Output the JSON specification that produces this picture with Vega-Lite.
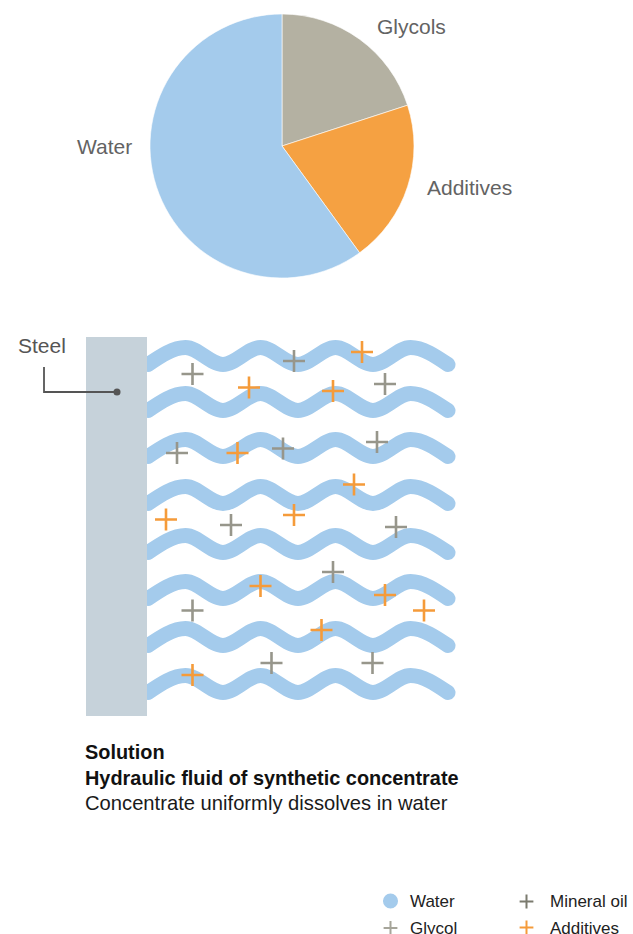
{
  "$schema": "https://vega.github.io/schema/vega-lite/v6.json",
  "width": 633,
  "height": 934,
  "autosize": "none",
  "padding": 0,
  "background": "white",
  "config": {"view": {"stroke": null}, "font": "Liberation Sans"},
  "datasets": {
    "pie": [
      {"part": "Glycols", "t0": 0, "t1": 20, "x": 282, "y": 146},
      {"part": "Additives", "t0": 20, "t1": 40, "x": 282, "y": 146},
      {"part": "Water", "t0": 40, "t1": 100, "x": 282, "y": 146}
    ],
    "waves": [
      {"w": 1, "x": 148, "y": 364.5}, {"w": 1, "x": 185.5, "y": 347.5}, {"w": 1, "x": 223, "y": 364.5}, {"w": 1, "x": 260.5, "y": 347.5}, {"w": 1, "x": 298, "y": 364.5}, {"w": 1, "x": 335.5, "y": 347.5}, {"w": 1, "x": 373, "y": 364.5}, {"w": 1, "x": 410.5, "y": 347.5}, {"w": 1, "x": 448, "y": 364.5},
      {"w": 2, "x": 148, "y": 410.5}, {"w": 2, "x": 185.5, "y": 393.5}, {"w": 2, "x": 223, "y": 410.5}, {"w": 2, "x": 260.5, "y": 393.5}, {"w": 2, "x": 298, "y": 410.5}, {"w": 2, "x": 335.5, "y": 393.5}, {"w": 2, "x": 373, "y": 410.5}, {"w": 2, "x": 410.5, "y": 393.5}, {"w": 2, "x": 448, "y": 410.5},
      {"w": 3, "x": 148, "y": 456.5}, {"w": 3, "x": 185.5, "y": 439.5}, {"w": 3, "x": 223, "y": 456.5}, {"w": 3, "x": 260.5, "y": 439.5}, {"w": 3, "x": 298, "y": 456.5}, {"w": 3, "x": 335.5, "y": 439.5}, {"w": 3, "x": 373, "y": 456.5}, {"w": 3, "x": 410.5, "y": 439.5}, {"w": 3, "x": 448, "y": 456.5},
      {"w": 4, "x": 148, "y": 503.5}, {"w": 4, "x": 185.5, "y": 486.5}, {"w": 4, "x": 223, "y": 503.5}, {"w": 4, "x": 260.5, "y": 486.5}, {"w": 4, "x": 298, "y": 503.5}, {"w": 4, "x": 335.5, "y": 486.5}, {"w": 4, "x": 373, "y": 503.5}, {"w": 4, "x": 410.5, "y": 486.5}, {"w": 4, "x": 448, "y": 503.5},
      {"w": 5, "x": 148, "y": 552.5}, {"w": 5, "x": 185.5, "y": 535.5}, {"w": 5, "x": 223, "y": 552.5}, {"w": 5, "x": 260.5, "y": 535.5}, {"w": 5, "x": 298, "y": 552.5}, {"w": 5, "x": 335.5, "y": 535.5}, {"w": 5, "x": 373, "y": 552.5}, {"w": 5, "x": 410.5, "y": 535.5}, {"w": 5, "x": 448, "y": 552.5},
      {"w": 6, "x": 148, "y": 598.5}, {"w": 6, "x": 185.5, "y": 581.5}, {"w": 6, "x": 223, "y": 598.5}, {"w": 6, "x": 260.5, "y": 581.5}, {"w": 6, "x": 298, "y": 598.5}, {"w": 6, "x": 335.5, "y": 581.5}, {"w": 6, "x": 373, "y": 598.5}, {"w": 6, "x": 410.5, "y": 581.5}, {"w": 6, "x": 448, "y": 598.5},
      {"w": 7, "x": 148, "y": 645.5}, {"w": 7, "x": 185.5, "y": 628.5}, {"w": 7, "x": 223, "y": 645.5}, {"w": 7, "x": 260.5, "y": 628.5}, {"w": 7, "x": 298, "y": 645.5}, {"w": 7, "x": 335.5, "y": 628.5}, {"w": 7, "x": 373, "y": 645.5}, {"w": 7, "x": 410.5, "y": 628.5}, {"w": 7, "x": 448, "y": 645.5},
      {"w": 8, "x": 148, "y": 692.5}, {"w": 8, "x": 185.5, "y": 675.5}, {"w": 8, "x": 223, "y": 692.5}, {"w": 8, "x": 260.5, "y": 675.5}, {"w": 8, "x": 298, "y": 692.5}, {"w": 8, "x": 335.5, "y": 675.5}, {"w": 8, "x": 373, "y": 692.5}, {"w": 8, "x": 410.5, "y": 675.5}, {"w": 8, "x": 448, "y": 692.5}
    ],
    "steel": [{"x": 86, "x2": 147, "y": 337, "y2": 716}],
    "callout": [
      {"o": 1, "x": 44, "y": 367},
      {"o": 2, "x": 44, "y": 392},
      {"o": 3, "x": 117, "y": 392}
    ],
    "crosses": [
      {"kind": "Glycol", "x": 294, "y": 361},
      {"kind": "Glycol", "x": 192.5, "y": 374},
      {"kind": "Glycol", "x": 385, "y": 384},
      {"kind": "Glycol", "x": 177, "y": 453},
      {"kind": "Glycol", "x": 283, "y": 448.5},
      {"kind": "Glycol", "x": 377, "y": 442},
      {"kind": "Glycol", "x": 231, "y": 525},
      {"kind": "Glycol", "x": 396, "y": 527},
      {"kind": "Glycol", "x": 333, "y": 572},
      {"kind": "Glycol", "x": 192.5, "y": 610.5},
      {"kind": "Glycol", "x": 271.5, "y": 663},
      {"kind": "Glycol", "x": 372.5, "y": 663},
      {"kind": "Additives", "x": 362, "y": 352},
      {"kind": "Additives", "x": 249, "y": 387.5},
      {"kind": "Additives", "x": 333, "y": 391},
      {"kind": "Additives", "x": 237.5, "y": 453},
      {"kind": "Additives", "x": 354, "y": 484.5},
      {"kind": "Additives", "x": 166, "y": 519.5},
      {"kind": "Additives", "x": 294, "y": 515},
      {"kind": "Additives", "x": 260.5, "y": 586},
      {"kind": "Additives", "x": 385, "y": 595},
      {"kind": "Additives", "x": 424, "y": 610.5},
      {"kind": "Additives", "x": 321.5, "y": 630},
      {"kind": "Additives", "x": 192.5, "y": 675}
    ],
    "labels": [
      {"role": "pie", "text": "Glycols", "x": 377, "y": 34},
      {"role": "pie", "text": "Additives", "x": 427, "y": 195},
      {"role": "pie", "text": "Water", "x": 77, "y": 154},
      {"role": "steel", "text": "Steel", "x": 18, "y": 353},
      {"role": "head", "text": "Solution", "x": 85, "y": 759},
      {"role": "head", "text": "Hydraulic fluid of synthetic concentrate", "x": 85, "y": 785},
      {"role": "sub", "text": "Concentrate uniformly dissolves in water", "x": 85, "y": 810},
      {"role": "legend", "text": "Water", "x": 410, "y": 907},
      {"role": "legend", "text": "Mineral oil", "x": 550, "y": 907},
      {"role": "legend", "text": "Glycol", "x": 410, "y": 934},
      {"role": "legend", "text": "Additives", "x": 550, "y": 934}
    ],
    "legend": [
      {"kind": "Water", "x": 390.5, "y": 901},
      {"kind": "Mineral oil", "x": 526.5, "y": 901.5},
      {"kind": "Glycol", "x": 390.5, "y": 928},
      {"kind": "Additives", "x": 526.5, "y": 927.5}
    ]
  },
  "encoding": {
    "x": {"field": "x", "type": "quantitative", "scale": {"domain": [0, 633], "nice": false, "zero": false}, "axis": null},
    "y": {"field": "y", "type": "quantitative", "scale": {"domain": [0, 934], "nice": false, "zero": false, "reverse": true}, "axis": null}
  },
  "layer": [
    {
      "data": {"name": "pie"},
      "mark": {"type": "arc", "outerRadius": 132, "innerRadius": 0, "stroke": "#ffffff", "strokeWidth": 0.6},
      "encoding": {
        "x": {"field": "x", "type": "quantitative", "stack": null},
        "y": {"field": "y", "type": "quantitative", "stack": null},
        "theta": {"field": "t0", "type": "quantitative", "stack": null, "scale": {"domain": [0, 100], "range": [0, 6.283185307179586]}},
        "theta2": {"field": "t1"},
        "color": {"field": "part", "type": "nominal", "scale": {"domain": ["Glycols", "Additives", "Water"], "range": ["#b4b1a2", "#f5a142", "#a4cbec"]}, "legend": null}
      }
    },
    {
      "data": {"name": "waves"},
      "mark": {"type": "line", "strokeWidth": 15, "strokeCap": "round", "interpolate": "monotone", "color": "#a4cbec"},
      "encoding": {"detail": {"field": "w", "type": "nominal"}}
    },
    {
      "data": {"name": "steel"},
      "mark": {"type": "rect", "color": "#c6d2da"},
      "encoding": {
        "x2": {"field": "x2"},
        "y2": {"field": "y2"}
      }
    },
    {
      "data": {"name": "callout"},
      "mark": {"type": "line", "color": "#555555", "strokeWidth": 1.8},
      "encoding": {"order": {"field": "o", "type": "quantitative"}}
    },
    {
      "data": {"name": "callout"},
      "transform": [{"filter": "datum.o === 3"}],
      "mark": {"type": "point", "filled": true, "color": "#555555", "size": 50, "opacity": 1},
      "encoding": {}
    },
    {
      "data": {"name": "crosses"},
      "transform": [{"filter": "datum.kind === 'Glycol'"}],
      "mark": {"type": "point", "shape": "M-1,0H1M0,-1V1", "filled": false, "strokeWidth": 2.6, "size": 484, "color": "#97968b", "opacity": 1},
      "encoding": {}
    },
    {
      "data": {"name": "crosses"},
      "transform": [{"filter": "datum.kind === 'Additives'"}],
      "mark": {"type": "point", "shape": "M-1,0H1M0,-1V1", "filled": false, "strokeWidth": 2.6, "size": 484, "color": "#f59b3a", "opacity": 1},
      "encoding": {}
    },
    {
      "data": {"name": "labels"},
      "transform": [{"filter": "datum.role === 'pie'"}],
      "mark": {"type": "text", "align": "left", "baseline": "alphabetic", "fontSize": 21, "color": "#636363"},
      "encoding": {"text": {"field": "text"}}
    },
    {
      "data": {"name": "labels"},
      "transform": [{"filter": "datum.role === 'steel'"}],
      "mark": {"type": "text", "align": "left", "baseline": "alphabetic", "fontSize": 21, "color": "#555555"},
      "encoding": {"text": {"field": "text"}}
    },
    {
      "data": {"name": "labels"},
      "transform": [{"filter": "datum.role === 'head'"}],
      "mark": {"type": "text", "align": "left", "baseline": "alphabetic", "fontSize": 19.9, "fontWeight": "bold", "color": "#111111"},
      "encoding": {"text": {"field": "text"}}
    },
    {
      "data": {"name": "labels"},
      "transform": [{"filter": "datum.role === 'sub'"}],
      "mark": {"type": "text", "align": "left", "baseline": "alphabetic", "fontSize": 20.2, "color": "#1a1a1a"},
      "encoding": {"text": {"field": "text"}}
    },
    {
      "data": {"name": "labels"},
      "transform": [{"filter": "datum.role === 'legend'"}],
      "mark": {"type": "text", "align": "left", "baseline": "alphabetic", "fontSize": 17, "color": "#222222"},
      "encoding": {"text": {"field": "text"}}
    },
    {
      "data": {"name": "legend"},
      "transform": [{"filter": "datum.kind === 'Water'"}],
      "mark": {"type": "point", "shape": "circle", "filled": true, "size": 227, "color": "#a4cbec", "opacity": 1},
      "encoding": {}
    },
    {
      "data": {"name": "legend"},
      "transform": [{"filter": "datum.kind !== 'Water'"}],
      "mark": {"type": "point", "shape": "M-1,0H1M0,-1V1", "filled": false, "strokeWidth": 2, "size": 190, "opacity": 1},
      "encoding": {
        "stroke": {"field": "kind", "type": "nominal", "scale": {"domain": ["Mineral oil", "Glycol", "Additives"], "range": ["#7b7b6f", "#a6a59a", "#f59b3a"]}, "legend": null}
      }
    }
  ]
}
